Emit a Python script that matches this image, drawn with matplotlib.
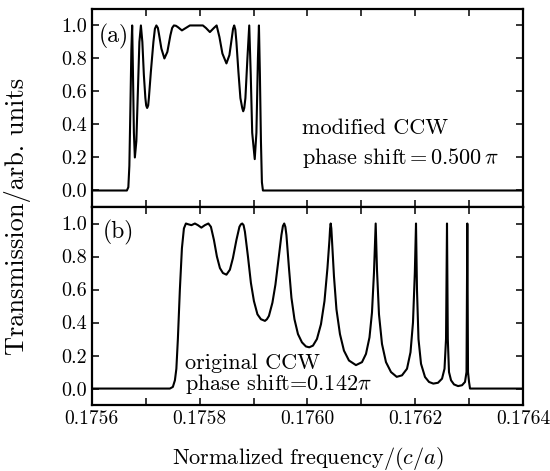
import numpy as np
import matplotlib
import matplotlib.pyplot as plt
from matplotlib.ticker import MultipleLocator, FuncFormatter

matplotlib.use('agg')

plt.rcParams['font.family'] = ['cmr10', 'DejaVu Serif']
plt.rcParams['mathtext.fontset'] = 'cm'
plt.rcParams['axes.formatter.use_mathtext'] = True

### data
# frequency given as offset from 0.1756 in units of 1e-4 (c/a)
f0 = 0.1756
du_a = [0.0, 0.650, 0.677, 0.696, 0.715, 0.733, 0.748, 0.761, 0.780, 0.798,
        0.826, 0.854, 0.882, 0.910, 0.937, 0.965, 0.993, 1.008, 1.026, 1.045,
        1.058, 1.095, 1.142, 1.170, 1.197, 1.225, 1.244, 1.290, 1.346, 1.401,
        1.457, 1.490, 1.522, 1.560, 1.596, 1.671, 1.745, 1.819, 1.930, 2.060,
        2.116, 2.190, 2.265, 2.315, 2.367, 2.422, 2.497, 2.552, 2.599, 2.620,
        2.641, 2.662, 2.682, 2.719, 2.756, 2.790, 2.808, 2.828, 2.849, 2.886,
        2.920, 2.948, 2.975, 3.022, 3.053, 3.081, 3.100, 3.118, 3.137, 3.155,
        3.174, 8.0]
trans_a = [0.0, 0.0, 0.02, 0.15, 0.5, 0.85, 1.0, 0.75, 0.35, 0.2,
           0.3, 0.6, 0.9, 1.0, 0.9, 0.7, 0.56, 0.515, 0.5, 0.515,
           0.56, 0.72, 0.9, 0.98, 1.0, 0.985, 0.95, 0.86, 0.8, 0.84,
           0.94, 0.985, 1.0, 0.998, 0.99, 0.97, 0.985, 1.0, 1.0, 1.0,
           0.985, 0.96, 0.985, 1.0, 0.93, 0.83, 0.77, 0.82, 0.93, 0.98,
           1.0, 0.975, 0.9, 0.72, 0.56, 0.50, 0.48, 0.50, 0.56, 0.8,
           1.0, 0.7, 0.35, 0.19, 0.35, 0.8, 1.0, 0.7, 0.3, 0.05,
           0.0, 0.0]

du_b = [0.0, 1.448, 1.503, 1.541, 1.568, 1.596, 1.633, 1.671, 1.708, 1.745,
        1.791, 1.847, 1.912, 1.968, 2.032, 2.097, 2.162, 2.209, 2.265, 2.320,
        2.376, 2.432, 2.497, 2.561, 2.617, 2.682, 2.738, 2.765, 2.790, 2.815,
        2.840, 2.896, 2.951, 3.007, 3.072, 3.137, 3.175, 3.211, 3.248, 3.285,
        3.350, 3.406, 3.462, 3.517, 3.545, 3.569, 3.590, 3.610, 3.657, 3.703,
        3.759, 3.824, 3.898, 3.972, 4.033, 4.102, 4.176, 4.251, 4.316, 4.371,
        4.408, 4.420, 4.431, 4.443, 4.455, 4.492, 4.538, 4.603, 4.677, 4.770,
        4.900, 5.012, 5.086, 5.151, 5.197, 5.234, 5.266, 5.290, 5.327, 5.383,
        5.457, 5.550, 5.656, 5.754, 5.847, 5.912, 5.958, 5.992, 6.014, 6.032,
        6.060, 6.107, 6.181, 6.255, 6.335, 6.422, 6.497, 6.543, 6.571, 6.589,
        6.604, 6.626, 6.664, 6.719, 6.794, 6.868, 6.923, 6.951, 6.966, 6.979,
        6.998, 7.016, 8.0]
trans_b = [0.0, 0.0, 0.01, 0.05, 0.12, 0.3, 0.6, 0.85, 0.97, 1.0,
           0.995, 0.99, 1.0, 0.99, 0.975, 0.99, 1.0, 0.98, 0.9, 0.8,
           0.73, 0.7, 0.69, 0.72, 0.79, 0.9, 0.98, 0.995, 1.0, 0.99,
           0.95, 0.8, 0.64, 0.53, 0.45, 0.42, 0.415, 0.41, 0.42, 0.44,
           0.52, 0.63, 0.78, 0.93, 0.985, 1.0, 0.98, 0.93, 0.73, 0.55,
           0.42, 0.33, 0.28, 0.255, 0.25, 0.26, 0.3, 0.39, 0.53, 0.73,
           0.9, 0.97, 1.0, 0.97, 0.9, 0.68, 0.48, 0.33, 0.23, 0.17,
           0.142, 0.16, 0.21, 0.31, 0.46, 0.7, 1.0, 0.72, 0.45, 0.27,
           0.16, 0.1, 0.071, 0.08, 0.12, 0.22, 0.4, 0.7, 1.0, 0.6,
           0.3, 0.15, 0.07, 0.04, 0.03, 0.035, 0.06, 0.12, 0.3, 1.0,
           0.3, 0.1, 0.05, 0.025, 0.015, 0.02, 0.04, 0.1, 1.0, 0.1,
           0.04, 0.0, 0.0]

freq_a = f0 + 1e-4 * np.array(du_a)
freq_b = f0 + 1e-4 * np.array(du_b)

labels = ['(a)', '(b)']
notes = ['modified CCW\nphase shift$\\,$=$\\,$0.500$\\,\\pi$',
         'original CCW\nphase shift=0.142$\\pi$']

fig = plt.figure(figsize=(5.5, 4.71), dpi=100)
gs = fig.add_gridspec(2, 1, left=0.167, right=0.951, top=0.981, bottom=0.140, hspace=0)
ax1 = fig.add_subplot(gs[0])
ax2 = fig.add_subplot(gs[1], sharex=ax1)

ax1.plot(freq_a, trans_a, color='black', lw=1.5)
ax2.plot(freq_b, trans_b, color='black', lw=1.5)

for ax in (ax1, ax2):
    ax.set_xlim(0.1756, 0.1764)
    ax.set_ylim(-0.1, 1.1)
    ax.xaxis.set_major_locator(MultipleLocator(0.0002))
    ax.xaxis.set_minor_locator(MultipleLocator(0.0001))
    ax.yaxis.set_major_locator(MultipleLocator(0.2))
    ax.yaxis.set_major_formatter(FuncFormatter(lambda v, p: '%.1f' % v))
    ax.xaxis.set_major_formatter(FuncFormatter(lambda v, p: '%.4f' % v))
    ax.tick_params(which='both', direction='in', top=True, right=True,
                   length=5, width=1.1, labelsize=14)
    ax.tick_params(axis='y', labelsize=14.5)
    for s in ax.spines.values():
        s.set_linewidth(1.6)

ax1.tick_params(labelbottom=False)

ax1.text(0.175613, 0.935, labels[0], fontsize=17, va='center', ha='left')
ax2.text(0.175620, 0.945, labels[1], fontsize=17, va='center', ha='left')
ax1.text(0.175990, 0.28, notes[0], fontsize=16, va='center', ha='left', linespacing=1.4)
ax2.text(0.175773, 0.085, notes[1], fontsize=16, va='center', ha='left', linespacing=0.95)

fig.text(0.032, 0.54, 'Transmission/arb. units', rotation=90, fontsize=19,
         va='center', ha='center')
ax2.set_xlabel('Normalized frequency/$(c/a)$', fontsize=16, labelpad=12)

plt.savefig('out.png', dpi=100)
